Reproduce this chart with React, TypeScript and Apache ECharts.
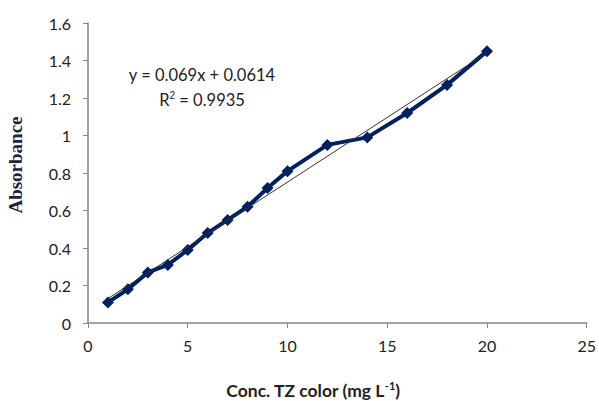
import React, { useEffect, useRef } from "react";
import * as echarts from "echarts";

const concentrations = [1, 2, 3, 4, 5, 6, 7, 8, 9, 10, 12, 14, 16, 18, 20];
const absorbance = [0.11, 0.18, 0.27, 0.31, 0.39, 0.48, 0.55, 0.62, 0.72, 0.81, 0.95, 0.99, 1.12, 1.27, 1.45];
const slope = 0.069;
const intercept = 0.0614;
const trendX = [1, 20];
const xTicks = [0, 5, 10, 15, 20, 25];
const yTicks = [0, 0.2, 0.4, 0.6, 0.8, 1, 1.2, 1.4, 1.6];

export default function App() {
  const ref = useRef<HTMLDivElement>(null);
  useEffect(() => {
    if (!ref.current) return;
    const chart = echarts.init(ref.current, null, { renderer: "svg" });
    const font = "Lato, 'Open Sans', sans-serif";
    chart.setOption({
      animation: false,
      backgroundColor: "#ffffff",
      grid: { left: 88, right: 11, top: 23, bottom: 78, containLabel: false },
      xAxis: {
        type: "value",
        min: xTicks[0],
        max: xTicks[xTicks.length - 1],
        interval: 5,
        axisLine: { show: true, lineStyle: { color: "#868686", width: 1.5 } },
        axisTick: { show: true, inside: false, length: 5, lineStyle: { color: "#868686" } },
        splitLine: { show: false },
        axisLabel: { color: "#222", fontSize: 16, fontFamily: font, margin: 14 },
      },
      yAxis: {
        type: "value",
        min: yTicks[0],
        max: yTicks[yTicks.length - 1],
        interval: 0.2,
        axisLine: { show: true, lineStyle: { color: "#868686", width: 1.5 } },
        axisTick: { show: true, inside: false, length: 5, lineStyle: { color: "#868686" } },
        splitLine: { show: false },
        axisLabel: {
          color: "#222",
          fontSize: 16,
          fontFamily: font,
          margin: 17,
          formatter: (v: number) => String(Math.round(v * 10) / 10),
        },
      },
      series: [
        {
          type: "line",
          data: trendX.map((x) => [x, slope * x + intercept]),
          symbol: "none",
          lineStyle: { color: "#333333", width: 1 },
          z: 3,
        },
        {
          type: "line",
          data: concentrations.map((x, i) => [x, absorbance[i]]),
          symbol: "diamond",
          symbolSize: 12,
          itemStyle: { color: "#002060" },
          lineStyle: { color: "#002060", width: 4 },
          z: 2,
        },
      ],
      graphic: [
        {
          type: "text",
          x: 202,
          y: 75,
          style: { text: "y = 0.069x + 0.0614", fontSize: 16.5, fontFamily: font, fill: "#222", align: "center", verticalAlign: "middle" },
        },
        {
          type: "text",
          x: 202,
          y: 100,
          style: {
            text: "R{s|2} = 0.9935",
            fontSize: 16.5,
            fontFamily: font,
            fill: "#222",
            align: "center",
            verticalAlign: "middle",
            rich: { s: { fontSize: 10, padding: [0, 0, 9, 0], fill: "#222" } },
          },
        },
        {
          type: "text",
          x: 15,
          y: 165,
          rotation: Math.PI / 2,
          style: {
            text: "Absorbance",
            fontSize: 19,
            fontWeight: "bold",
            fontFamily: "'Liberation Serif', 'DejaVu Serif', serif",
            fill: "#1b2440",
            align: "center",
            verticalAlign: "middle",
          },
        },
        {
          type: "text",
          x: 313,
          y: 390,
          style: {
            text: "Conc. TZ color (mg L{s|-1})",
            fontSize: 17.5,
            fontWeight: "bold",
            fontFamily: font,
            fill: "#222",
            align: "center",
            verticalAlign: "middle",
            rich: { s: { fontSize: 11, fontWeight: "bold", fontFamily: font, padding: [0, 0, 9, 0], fill: "#222" } },
          },
        },
      ],
    });
    return () => chart.dispose();
  }, []);
  return <div ref={ref} style={{ width: 599, height: 401, position: "absolute", left: 0, top: 0 }} />;
}
